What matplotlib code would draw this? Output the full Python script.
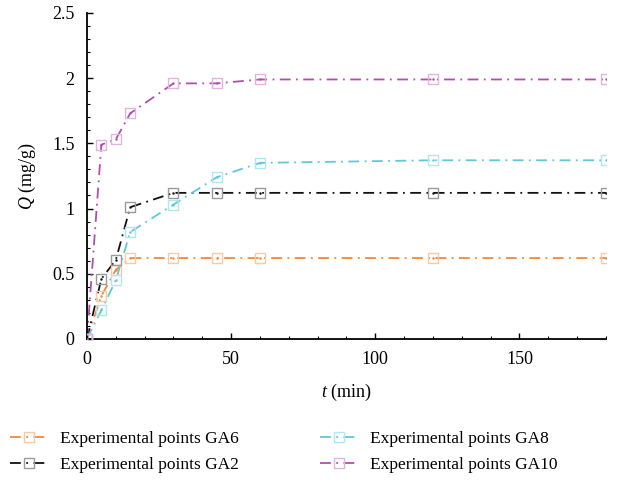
import matplotlib
matplotlib.use("Agg")
import matplotlib.pyplot as plt
from matplotlib.ticker import MultipleLocator
from matplotlib.lines import Line2D

plt.rcParams['font.family'] = ['Liberation Serif', 'DejaVu Serif']
plt.rcParams['mathtext.fontset'] = 'custom'
plt.rcParams['mathtext.it'] = 'Liberation Serif:italic'
plt.rcParams['mathtext.rm'] = 'Liberation Serif'

t = [0, 5, 10, 15, 30, 45, 60, 120, 180]
ga6 = [0, 0.33, 0.53, 0.62, 0.62, 0.62, 0.62, 0.62, 0.62]
ga2 = [0, 0.46, 0.605, 1.01, 1.12, 1.12, 1.12, 1.12, 1.12]
ga8 = [0, 0.22, 0.45, 0.82, 1.03, 1.24, 1.35, 1.37, 1.37]
ga10 = [0, 1.49, 1.53, 1.73, 1.96, 1.96, 1.99, 1.99, 1.99]

labels = ["Experimental points GA6", "Experimental points GA2",
          "Experimental points GA8", "Experimental points GA10"]
series = [ga6, ga2, ga8, ga10]
line_colors = ["#f0893a", "#111111", "#5ec9d6", "#b04fae"]
marker_colors = ["#fcc9a6", "#9a9a9a", "#b2e6ee", "#e2b3de"]

ls = (0, (6, 3, 1, 3))
ms = 7

fig = plt.figure(figsize=(6.19, 4.8), dpi=100)
ax = fig.add_axes([0.1405, 0.294, 0.8385, 0.679])

handles = []
for y, lc, mc, lab in zip(series, line_colors, marker_colors, labels):
    ax.plot(t, y, color=lc, lw=1.3, ls=ls, zorder=2)
    ax.plot(t, y, ls='none', marker='s', markersize=ms, markerfacecolor='none',
            markeredgecolor=mc, markeredgewidth=1.0, zorder=3)
    ax.plot(t, y, ls='none', marker='.', markersize=1.5, color=lc, zorder=4)
    handles.append(Line2D([], [], color=lc, lw=1.3, ls=ls,
                          marker='s', markersize=ms, markerfacecolor='none',
                          markeredgecolor=mc, markeredgewidth=1.0, label=lab))

ax.set_xlim(0, 180)
ax.set_ylim(0, 2.5)
ax.xaxis.set_major_locator(MultipleLocator(50))
ax.xaxis.set_minor_locator(MultipleLocator(10))
ax.yaxis.set_minor_locator(MultipleLocator(0.1))
ax.set_yticks([0, 0.5, 1, 1.5, 2, 2.5])
ax.set_yticklabels(["0", "0.5", "1", "1.5", "2", "2.5"])
ax.tick_params(which='both', direction='in', labelsize=13, pad=9)
ax.tick_params(which='major', length=4, width=1)
ax.tick_params(which='minor', length=2, width=0.8)
ax.spines['top'].set_visible(False)
ax.spines['right'].set_visible(False)
ax.spines['left'].set_linewidth(1.3)
ax.spines['bottom'].set_linewidth(1.3)

ax.set_xlabel(r"$t$ (min)", fontsize=13, labelpad=10)
ax.set_ylabel(r"$Q$ (mg/g)", fontsize=13, labelpad=10)

fig.legend(handles=handles, loc='upper left', bbox_to_anchor=(0.005, 0.117),
           ncol=2, frameon=False, fontsize=12.5, handlelength=2.2,
           handletextpad=0.7, columnspacing=4.65, labelspacing=0.55,
           borderaxespad=0)

fig.savefig("out.png", dpi=100)
